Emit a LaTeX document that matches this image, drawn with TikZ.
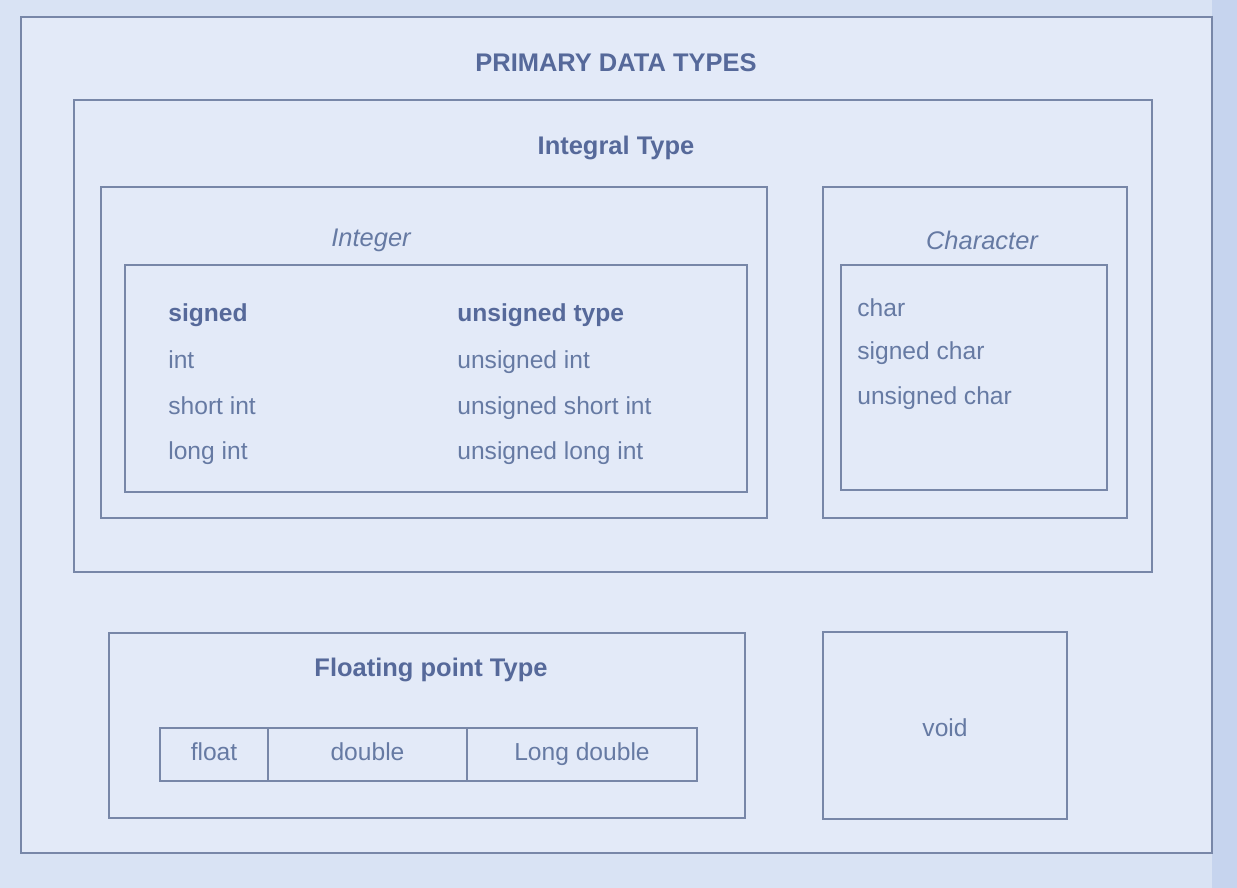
\documentclass[tikz,border=0pt]{standalone}
\usepackage{fontspec}
\setmainfont{Liberation Sans}
\definecolor{bgcol}{HTML}{D9E3F4}
\definecolor{bgright}{HTML}{C6D4EE}
\definecolor{paper}{HTML}{E3EAF8}
\definecolor{linecol}{HTML}{7887A8}
\definecolor{headcol}{HTML}{56699A}
\definecolor{itemcol}{HTML}{667AA3}
\tikzset{
  box/.style={draw=linecol, line width=0.9pt, inner sep=0pt},
  head/.style={font=\fontsize{14.5}{17}\selectfont\bfseries, text=headcol, inner sep=0pt},
  ihead/.style={font=\fontsize{14.5}{17}\selectfont\itshape, text=itemcol, inner sep=0pt},
  item/.style={font=\fontsize{14}{16}\selectfont, text=itemcol, inner sep=0pt, anchor=west, text height=10pt, text depth=3pt},
  bitem/.style={item, font=\fontsize{14}{16}\selectfont\bfseries, text=headcol},
  cell/.style={box, minimum height=1.06cm, font=\fontsize{14}{16}\selectfont, text=itemcol, text height=10pt, text depth=3pt}
}
\begin{document}
\begin{tikzpicture}[x=0.02cm, y=-0.02cm]
\useasboundingbox (0,0) rectangle (1237,888);
\fill[bgcol] (0,0) rectangle (1237,888);
\fill[bgright] (1212,0) rectangle (1237,888);
% outer
\node[box, fill=paper, minimum width=23.82cm, minimum height=16.72cm] (outer) at (616.5,435) {};
\node[head] (ttl) at (616,63) {PRIMARY DATA TYPES};
% integral
\node[box, minimum width=21.56cm, minimum height=9.44cm] (integral) at (613,336) {};
\node[head] (intgttl) at (616,148) {Integral Type};
% integer
\node[box, minimum width=13.32cm, minimum height=6.62cm] (integer) at (434,352.5) {};
\node[ihead] (integerttl) at (371,240) {Integer};
\node[box, minimum width=12.44cm, minimum height=4.54cm] (intinner) at (436,378.5) {};
\node[bitem] (s0) at (168,315) {signed};
\node[item] (s1) at (168,362) {int};
\node[item] (s2) at (168,408) {short int};
\node[item] (s3) at (168,453) {long int};
\node[bitem] (u0) at (457,315) {unsigned type};
\node[item] (u1) at (457,362) {unsigned int};
\node[item] (u2) at (457,408) {unsigned short int};
\node[item] (u3) at (457,453) {unsigned long int};
% character
\node[box, minimum width=6.08cm, minimum height=6.62cm] (character) at (975,352.5) {};
\node[ihead] (charttl) at (982,240) {Character};
\node[box, minimum width=5.32cm, minimum height=4.5cm] (charinner) at (974,377.5) {};
\node[item] (c1) at (857,310) {char};
\node[item] (c2) at (857,353) {signed char};
\node[item] (c3) at (857,398) {unsigned char};
% floating
\node[box, minimum width=12.72cm, minimum height=3.7cm] (floating) at (427,725.5) {};
\node[head] (floatttl) at (431,670) {Floating point Type};
\node[cell, minimum width=2.16cm] (fl) at (214,754.5) {float};
\node[cell, minimum width=3.98cm] (db) at (367.5,754.5) {double};
\node[cell, minimum width=4.6cm] (ld) at (582,754.5) {Long double};
% void
\node[box, minimum width=4.88cm, minimum height=3.74cm] (void) at (945,725.5) {};
\node[font=\fontsize{14}{16}\selectfont, text=itemcol, inner sep=0pt] (voidtxt) at (945,728) {void};
\end{tikzpicture}
\end{document}
